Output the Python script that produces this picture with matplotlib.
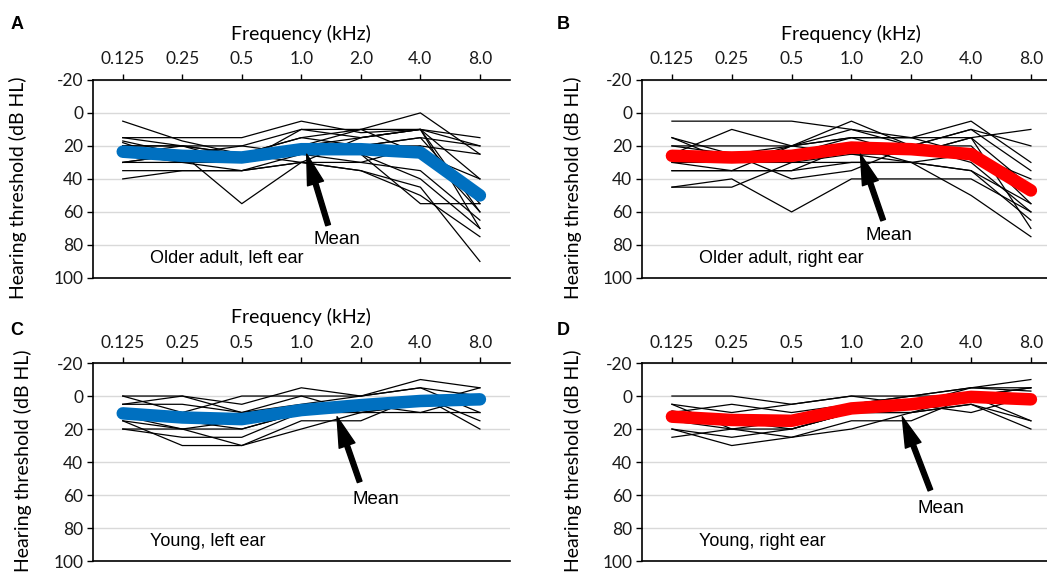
import numpy as np
import matplotlib
matplotlib.use('Agg')
import matplotlib.pyplot as plt

plt.rcParams['font.family'] = ['Lato', 'DejaVu Sans']
plt.rcParams['axes.unicode_minus'] = False

freqs = ['0.125', '0.25', '0.5', '1.0', '2.0', '4.0', '8.0']

# individual audiograms (dB HL)
older_left = [
    [5, 17, 25, 20, 15, 10, 60],
    [15, 15, 15, 5, 12, 10, 15],
    [17, 25, 20, 10, 10, 0, 25],
    [20, 20, 25, 15, 10, 10, 20],
    [25, 30, 30, 25, 20, 15, 20],
    [30, 25, 55, 30, 35, 45, 90],
    [35, 35, 35, 30, 30, 35, 65],
    [40, 35, 35, 25, 25, 55, 55],
    [25, 20, 30, 20, 25, 40, 70],
    [20, 25, 25, 30, 15, 10, 40],
    [18, 30, 35, 30, 35, 50, 75],
    [30, 30, 25, 15, 20, 15, 55],
    [20, 20, 20, 25, 30, 20, 60],
    [25, 25, 30, 10, 15, 10, 70],
    [15, 20, 25, 20, 10, 25, 40],
    [30, 25, 30, 20, 20, 20, 25],
]
older_right = [
    [5, 5, 5, 10, 15, 5, 30],
    [15, 25, 20, 10, 20, 10, 20],
    [20, 20, 20, 15, 15, 15, 10],
    [25, 10, 20, 5, 20, 20, 55],
    [30, 35, 35, 20, 20, 30, 60],
    [35, 35, 35, 30, 30, 35, 65],
    [45, 45, 30, 25, 30, 50, 75],
    [45, 40, 60, 40, 40, 40, 60],
    [15, 30, 25, 15, 25, 15, 70],
    [30, 30, 30, 30, 30, 25, 40],
    [25, 25, 40, 35, 20, 10, 35],
    [20, 25, 25, 20, 30, 35, 55],
    [35, 35, 20, 25, 25, 15, 45],
    [25, 30, 20, 15, 15, 25, 50],
]
young_left = [
    [0, 0, 5, -5, 0, -5, 10],
    [0, 10, 0, 0, 0, -10, -5],
    [5, 0, 10, 0, 10, 5, 0],
    [10, 15, 20, 10, 5, 0, 15],
    [15, 20, 30, 15, 15, 0, 20],
    [15, 30, 30, 20, 10, 10, 0],
    [20, 25, 25, 10, 10, 5, -5],
    [5, 5, 10, 5, 0, -5, 0],
    [12, 20, 20, 10, 5, 0, 5],
    [20, 20, 15, 10, 5, 10, 10],
]
young_right = [
    [0, 0, 5, 0, 0, -5, -10],
    [5, 10, 5, 0, 5, -5, -5],
    [10, 5, 10, 5, 0, 0, -5],
    [15, 20, 20, 10, 10, 5, 15],
    [20, 30, 25, 20, 10, 5, 20],
    [25, 20, 25, 15, 15, 0, -5],
    [20, 25, 20, 10, 5, 10, 0],
    [9, 15, 20, 10, 10, 0, 15],
    [5, 20, 15, 5, 0, -5, -3],
]

# group means
mean_older_left = [23.5, 26, 27, 22, 22, 24, 50]
mean_older_right = [26, 27, 26, 21, 22, 25, 47]
mean_young_left = [10.5, 13, 14, 8.5, 5.5, 3, 2]
mean_young_right = [12.5, 14.5, 15, 7.5, 5, 0.5, 2]

panels = [
    dict(rect=[0.0888, 0.520, 0.398, 0.342], letter='A', lines=older_left, mean=mean_older_left,
         color='#0070C0', label='Older adult, left ear', freq_label=True,
         tip=(3.09, 25), tail=(3.45, 68), mtxt=(3.6, 77), ylab_x=0.017),
    dict(rect=[0.6132, 0.520, 0.4000, 0.342], letter='B', lines=older_right, mean=mean_older_right,
         color='#FF0000', label='Older adult, right ear', freq_label=True,
         tip=(3.15, 25), tail=(3.53, 65), mtxt=(3.62, 74), ylab_x=0.547),
    dict(rect=[0.0888, 0.031, 0.398, 0.342], letter='C', lines=young_left, mean=mean_young_left,
         color='#0070C0', label='Young, left ear', freq_label=True,
         tip=(3.6, 12.5), tail=(3.98, 52), mtxt=(4.25, 63), ylab_x=0.022),
    dict(rect=[0.6132, 0.031, 0.4000, 0.342], letter='D', lines=young_right, mean=mean_young_right,
         color='#FF0000', label='Young, right ear', freq_label=False,
         tip=(3.85, 12.5), tail=(4.32, 57), mtxt=(4.5, 68), ylab_x=0.547),
]

fig = plt.figure(figsize=(10.47, 5.79), dpi=100)
x = np.arange(len(freqs))

for p in panels:
    ax = fig.add_axes(p['rect'])
    for row in p['lines']:
        ax.plot(x, row, color='black', lw=0.9, zorder=2)
    ax.plot(x, p['mean'], color=p['color'], lw=9, solid_capstyle='round',
            solid_joinstyle='round', zorder=3)

    ax.set_xlim(-0.5, 6.5)
    ax.set_ylim(100, -20)
    ax.set_yticks(range(-20, 101, 20))
    ax.set_xticks(x)
    ax.set_xticklabels(freqs)
    ax.xaxis.tick_top()
    ax.tick_params(axis='both', labelsize=12.5, length=4, width=1, color='black',
                   labelcolor='#1a1a1a', pad=3)
    ax.tick_params(axis='x', pad=5)
    ax.grid(axis='y', color='#d9d9d9', lw=1, zorder=0)
    ax.set_axisbelow(True)
    ax.spines['right'].set_visible(False)
    for s in ['top', 'bottom', 'left']:
        ax.spines[s].set_color('black')
        ax.spines[s].set_linewidth(1.2)
    if p['freq_label']:
        ax.xaxis.set_label_position('top')
        ax.set_xlabel('Frequency (kHz)', fontsize=14, labelpad=8)

    ax.text(0.45, 88, p['label'], fontsize=13, va='center', ha='left',
            family=['Liberation Sans', 'DejaVu Sans'])
    ax.annotate('', xy=p['tip'], xytext=p['tail'],
                arrowprops=dict(facecolor='black', edgecolor='black', width=3.5,
                                headwidth=12, headlength=22, shrink=0))
    ax.text(p['mtxt'][0], p['mtxt'][1], 'Mean', fontsize=13.5, ha='center', va='center',
            family=['Liberation Sans', 'DejaVu Sans'])

    r = p['rect']
    off = -0.015 if r[1] > 0.5 else 0.003
    fig.text(p['ylab_x'], r[1] + r[3] / 2 + off, 'Hearing threshold (dB HL)', rotation=90,
             fontsize=14, ha='center', va='center')
    lx = 0.010 if r[0] < 0.5 else 0.532
    ly = 0.957 if r[1] > 0.5 else 0.430
    fig.text(lx, ly, p['letter'], fontsize=13, fontweight='bold', ha='left', va='center',
             family=['Liberation Sans', 'DejaVu Sans'])

fig.savefig('out.png', dpi=100)
